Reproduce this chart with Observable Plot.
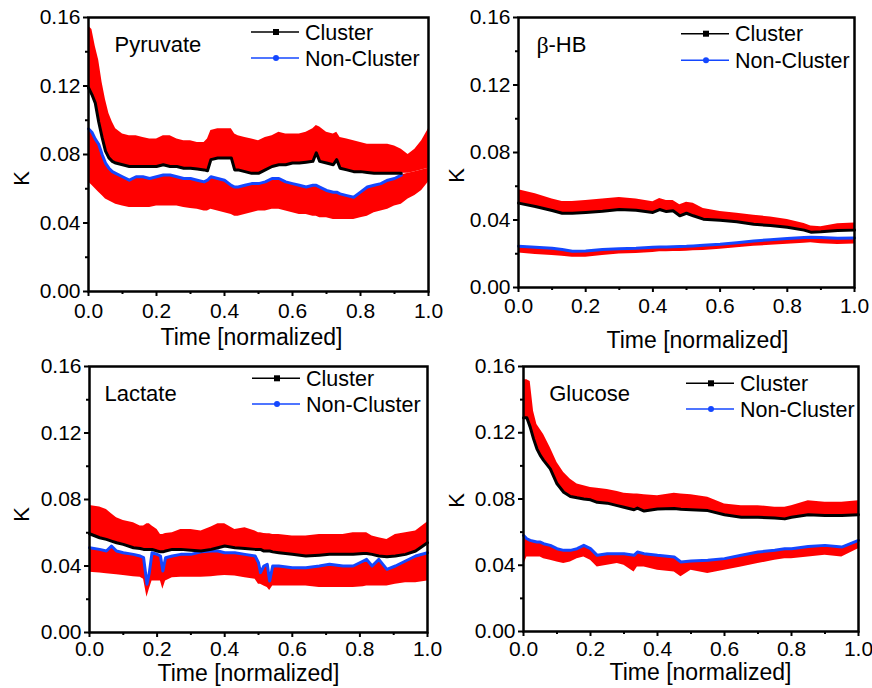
<!DOCTYPE html>
<html><head><meta charset="utf-8">
<script src="https://cdn.jsdelivr.net/npm/d3@7"></script>
<script src="https://cdn.jsdelivr.net/npm/@observablehq/plot@0.6"></script>
<style>
body{margin:0;background:#fff;}
#root{position:relative;width:872px;height:688px;overflow:hidden;font-family:"Liberation Sans",Arial,sans-serif;}
.panel{position:absolute;}
.panel svg{overflow:visible;}
</style></head><body><div id="root"></div>
<script>
const BLUE = "#1447ff";
const RED = "#ff0000";
const xTicks = [0, 0.2, 0.4, 0.6, 0.8, 1.0];
const xMinor = [0.1, 0.3, 0.5, 0.7, 0.9];
const yTicks = [0, 0.04, 0.08, 0.12, 0.16];
const yMinor = [0.02, 0.06, 0.10, 0.14];
const seriesNames = ["Cluster", "Non-Cluster"];
const xLabel = "Time [normalized]";
const yLabel = "K";

// Pyruvate
const P_t  = [0,.01,.02,.03,.04,.05,.06,.07,.08,.10,.12,.14,.16,.18,.20,.22,.24,.26,.28,.30,.32,.34,.35,.36,.38,.40,.42,.43,.44,.46,.48,.50,.52,.54,.56,.58,.60,.62,.64,.66,.67,.68,.70,.72,.73,.74,.76,.78,.80,.82,.84,.86,.88,.90,.92,.94,.96,.98,1.0];
const P_c  = [.119,.115,.110,.099,.090,.082,.078,.076,.075,.074,.073,.073,.073,.073,.073,.074,.073,.073,.072,.072,.0715,.071,.0705,.077,.078,.078,.078,.071,.071,.070,.069,.069,.071,.073,.074,.074,.075,.075,.0755,.076,.081,.076,.075,.074,.077,.072,.071,.070,.070,.0695,.069,.069,.069,.069,.069,.069,.070,.071,.072];
const P_hi = [.155,.153,.143,.135,.122,.112,.104,.099,.095,.092,.091,.091,.090,.089,.089,.091,.091,.089,.088,.088,.087,.087,.089,.094,.095,.095,.095,.092,.091,.090,.089,.088,.090,.091,.093,.092,.092,.092,.093,.095,.097,.096,.093,.092,.093,.090,.089,.088,.087,.086,.086,.086,.086,.085,.083,.080,.083,.088,.095];
const P_n  = [.095,.093,.089,.086,.080,.075,.072,.070,.069,.067,.065,.067,.067,.066,.067,.068,.068,.067,.066,.066,.065,.064,.065,.067,.066,.065,.062,.061,.061,.062,.063,.063,.064,.066,.066,.064,.063,.062,.061,.062,.062,.061,.059,.058,.058,.057,.056,.055,.058,.061,.062,.063,.065,.066,.068,.069,.070,.071,.072];
const P_lo = [.064,.062,.060,.058,.056,.054,.053,.052,.051,.050,.049,.049,.049,.049,.050,.050,.050,.050,.049,.0485,.048,.047,.047,.048,.047,.046,.045,.044,.044,.045,.046,.047,.047,.048,.048,.047,.046,.045,.045,.044,.044,.043,.043,.042,.042,.042,.042,.042,.043,.044,.046,.047,.048,.050,.051,.054,.056,.059,.064];

// beta-HB
const B_t  = [0,.05,.10,.13,.16,.20,.25,.30,.35,.40,.42,.44,.46,.48,.50,.52,.55,.60,.65,.70,.75,.80,.85,.87,.90,.95,1.0];
const B_c  = [.0500,.0480,.0456,.0440,.0440,.0445,.0452,.0462,.0458,.0445,.0462,.0450,.0455,.0425,.0440,.0425,.0405,.0398,.0390,.0375,.0367,.0357,.0340,.0328,.0330,.0338,.0340];
const B_hi = [.0580,.0555,.0525,.0510,.0510,.0515,.0525,.0533,.0525,.0508,.0528,.0515,.0515,.0490,.0505,.0500,.0468,.0450,.0440,.0428,.0418,.0403,.0380,.0365,.0360,.0378,.0382];
const B_n  = [.0245,.0238,.0232,.0225,.0215,.0216,.0225,.0230,.0232,.0238,.0240,.0240,.0242,.0243,.0244,.0246,.0250,.0256,.0265,.0276,.0283,.0290,.0296,.0298,.0296,.0292,.0293];
const B_lo = [.0205,.0195,.0190,.0185,.0180,.0180,.0190,.0198,.0202,.0208,.0212,.0212,.0214,.0214,.0215,.0218,.0220,.0226,.0235,.0244,.0250,.0256,.0262,.0265,.0260,.0255,.0258];

// Lactate
const L_t  = [0,.03,.05,.065,.08,.10,.13,.15,.16,.17,.177,.185,.20,.21,.217,.225,.245,.27,.30,.33,.36,.38,.40,.43,.46,.49,.50,.506,.516,.526,.533,.542,.56,.60,.64,.68,.71,.75,.78,.81,.82,.836,.856,.88,.905,.935,.965,1.0];
const L_c  = [.0594,.057,.056,.055,.054,.053,.051,.0505,.050,.050,.050,.050,.049,.0485,.0485,.049,.050,.050,.0495,.049,.050,.051,.052,.051,.0505,.050,.050,.050,.049,.049,.049,.0485,.048,.047,.046,.0465,.047,.047,.047,.0475,.0475,.047,.046,.0455,.046,.047,.049,.054];
const L_hi = [.0764,.0755,.074,.0714,.069,.0674,.066,.064,.064,.0654,.0654,.064,.062,.059,.059,.0595,.060,.062,.062,.061,.0634,.0654,.0654,.062,.063,.061,.060,.060,.0595,.0594,.0594,.059,.059,.058,.058,.059,.059,.059,.060,.060,.060,.058,.057,.056,.059,.060,.061,.0664];
const L_n  = [.051,.050,.049,.052,.049,.048,.047,.046,.045,.029,.036,.048,.047,.046,.037,.045,.046,.047,.047,.0485,.049,.049,.048,.048,.047,.046,.042,.036,.040,.041,.031,.040,.040,.039,.039,.040,.041,.040,.040,.043,.044,.040,.044,.038,.040,.043,.046,.048];
const L_lo = [.0363,.0358,.0353,.035,.0348,.0343,.0335,.0333,.032,.0212,.026,.031,.031,.031,.026,.031,.033,.0333,.0333,.0333,.0335,.034,.0343,.034,.033,.032,.029,.029,.028,.027,.0253,.028,.028,.028,.028,.027,.027,.027,.027,.0275,.028,.028,.028,.028,.029,.030,.030,.031];

// Glucose
const G_t  = [0,.01,.02,.03,.04,.05,.06,.08,.10,.12,.14,.16,.18,.20,.22,.25,.28,.30,.33,.34,.36,.40,.45,.47,.50,.55,.60,.65,.70,.75,.78,.80,.85,.90,.95,1.0];
const G_c  = [.129,.129,.1234,.1163,.1103,.1063,.1033,.0982,.0892,.0841,.0815,.0807,.080,.0795,.078,.0775,.076,.075,.0735,.0745,.0727,.074,.0743,.0738,.0735,.073,.0705,.069,.069,.0685,.068,.069,.0705,.070,.070,.0705];
const G_hi = [.152,.152,.151,.133,.125,.122,.119,.111,.102,.096,.092,.089,.088,.087,.0865,.0857,.0845,.0835,.083,.083,.0825,.082,.0835,.083,.0825,.081,.077,.076,.076,.075,.075,.076,.079,.078,.078,.079];
const G_n  = [.058,.056,.055,.0545,.054,.054,.053,.052,.050,.049,.049,.050,.052,.050,.046,.047,.047,.047,.046,.048,.047,.046,.045,.042,.0425,.043,.044,.046,.048,.049,.050,.050,.0513,.052,.051,.055];
const G_lo = [.040,.045,.045,.045,.045,.045,.044,.043,.042,.041,.042,.044,.045,.043,.039,.040,.041,.040,.036,.039,.039,.037,.036,.033,.037,.035,.037,.039,.041,.043,.044,.044,.045,.046,.045,.050];

const panels = [
  {title:"Pyruvate", t:P_t, c:P_c, hi:P_hi, n:P_n, lo:P_lo, lineEnd:0.92,
   left:0, top:0, width:436, height:345, ml:88, mt:17, mr:8, mb:54,
   xPad:6.5, xLabelDx:-7, xLabelDy:46, kDx:-67, kDy:24, titleDx:26, titleDy:27, legY:[15,41]},
  {title:"β-HB", t:B_t, c:B_c, hi:B_hi, n:B_n, lo:B_lo, lineEnd:1,
   left:436, top:0, width:436, height:345, ml:82, mt:17, mr:18, mb:58,
   xPad:5.5, xLabelDx:11, xLabelDy:53, kDx:-61.5, kDy:23, titleDx:18, titleDy:27.5, legY:[16.7,43.3]},
  {title:"Lactate", t:L_t, c:L_c, hi:L_hi, n:L_n, lo:L_lo, lineEnd:1,
   left:0, top:345, width:436, height:343, ml:89, mt:21, mr:9, mb:56,
   xPad:3.5, xLabelDx:-10, xLabelDy:41, kDx:-68, kDy:15, titleDx:15, titleDy:27.5, legY:[12.3,38]},
  {title:"Glucose", t:G_t, c:G_c, hi:G_hi, n:G_n, lo:G_lo, lineEnd:1,
   left:436, top:345, width:436, height:343, ml:87, mt:21, mr:14, mb:57,
   xPad:4.5, xLabelDx:9.5, xLabelDy:41, kDx:-66.5, kDy:1.5, titleDx:25.7, titleDy:27.5, legY:[17.3,43]}
];

function legendMark(p) {
  return (index, scales, values, dims) => {
    const g = d3.create("svg:g").attr("text-anchor", "start");
    const x0 = dims.marginLeft, y0 = dims.marginTop;
    const rows = [
      {label: seriesNames[0], color: "#000", sym: "square", y: p.legY[0]},
      {label: seriesNames[1], color: BLUE, sym: "circle", y: p.legY[1]}
    ];
    for (const r of rows) {
      const y = y0 + r.y;
      g.append("line").attr("x1", x0 + 163).attr("x2", x0 + 211).attr("y1", y).attr("y2", y)
        .attr("stroke", r.color).attr("stroke-width", 1.5);
      if (r.sym === "square") {
        g.append("rect").attr("x", x0 + 188 - 3).attr("y", y - 3).attr("width", 6).attr("height", 6).attr("fill", r.color);
      } else {
        g.append("circle").attr("cx", x0 + 188).attr("cy", y).attr("r", 3).attr("fill", r.color);
      }
      g.append("text").attr("x", x0 + 217).attr("y", y).attr("dy", "0.35em")
        .attr("text-anchor", "start").attr("font-size", 21.5).attr("fill", "#000").text(r.label);
    }
    return g.node();
  };
}

const root = document.getElementById("root");
for (const p of panels) {
  const data = p.t.map((t, i) => ({t, c: p.c[i], hi: p.hi[i], n: p.n[i], lo: p.lo[i]}));
  const lineData = data.filter(d => d.t <= p.lineEnd + 1e-9);
  const titleMarks = p.title === "β-HB"
    ? [Plot.text(["β"], {frameAnchor: "top-left", dx: p.titleDx, dy: p.titleDy, text: d => d, textAnchor: "start", lineAnchor: "middle", fontSize: 24, fontFamily: "Liberation Serif, serif"}),
       Plot.text(["-HB"], {frameAnchor: "top-left", dx: p.titleDx + 12, dy: p.titleDy, text: d => d, textAnchor: "start", lineAnchor: "middle", fontSize: 22})]
    : [Plot.text([p.title], {frameAnchor: "top-left", dx: p.titleDx, dy: p.titleDy, text: d => d, textAnchor: "start", lineAnchor: "middle", fontSize: 22})];
  const chart = Plot.plot({
    width: p.width, height: p.height,
    marginLeft: p.ml, marginTop: p.mt, marginRight: p.mr, marginBottom: p.mb,
    style: {fontSize: "21px", fontFamily: "Liberation Sans, Arial, sans-serif", background: "transparent", overflow: "visible", color: "#000"},
    x: {domain: [0, 1], label: null},
    y: {domain: [0, 0.16], label: null},
    marks: [
      Plot.areaY(data, {x: "t", y1: "c", y2: "hi", fill: RED}),
      Plot.areaY(data, {x: "t", y1: "lo", y2: "n", fill: RED}),
      Plot.line(lineData, {x: "t", y: "n", stroke: BLUE, strokeWidth: 3}),
      Plot.line(lineData, {x: "t", y: "c", stroke: "#000", strokeWidth: 3}),
      Plot.frame({stroke: "#000", strokeWidth: 2.5}),
      Plot.axisX(xTicks, {tickSize: 5, tickPadding: p.xPad, tickFormat: d3.format(".1f"), strokeWidth: 2, label: null, fontSize: 21}),
      Plot.axisX(xMinor, {tickSize: 3, text: null, strokeWidth: 2, label: null}),
      Plot.axisY(yTicks, {tickSize: 5, tickPadding: 3, tickFormat: d3.format(".2f"), strokeWidth: 2, label: null, fontSize: 21}),
      Plot.axisY(yMinor, {tickSize: 3, text: null, strokeWidth: 2, label: null}),
      Plot.text([xLabel], {frameAnchor: "bottom", dx: p.xLabelDx, dy: p.xLabelDy, text: d => d, textAnchor: "middle", lineAnchor: "middle", fontSize: 23}),
      Plot.text([yLabel], {frameAnchor: "left", dx: p.kDx, dy: p.kDy, text: d => d, rotate: -90, textAnchor: "middle", lineAnchor: "middle", fontSize: 22}),
      ...titleMarks,
      legendMark(p)
    ]
  });
  const div = document.createElement("div");
  div.className = "panel";
  div.style.left = p.left + "px";
  div.style.top = p.top + "px";
  div.appendChild(chart);
  root.appendChild(div);
}
</script>
</body></html>
